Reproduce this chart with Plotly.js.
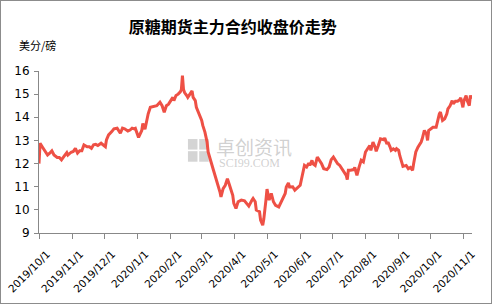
<!DOCTYPE html>
<html>
<head>
<meta charset="utf-8">
<script src="https://cdn.plot.ly/plotly-3.0.1.min.js"></script>
<style>
html,body{margin:0;padding:0;background:#fff;}
#wrap{position:relative;width:492px;height:304px;}
#chart{width:492px;height:304px;}
#frame{position:absolute;left:0;top:0;width:492px;height:304px;box-sizing:border-box;border:1px solid #8c8c8c;pointer-events:none;}
</style>
</head>
<body>
<div id="wrap"><div id="chart"></div><div id="frame"></div></div>
<script>
const chartTitle = "原糖期货主力合约收盘价走势";
const unitLabel = "美分/磅";
const dates = [
"2019-10-01","2019-10-02","2019-10-04","2019-10-07","2019-10-09","2019-10-11","2019-10-13","2019-10-15","2019-10-18","2019-10-20",
"2019-10-22","2019-10-25","2019-10-27","2019-10-28","2019-10-31","2019-11-02","2019-11-04","2019-11-06","2019-11-08","2019-11-10",
"2019-11-12","2019-11-15","2019-11-17","2019-11-19","2019-11-21","2019-11-23","2019-11-25","2019-11-28","2019-11-30","2019-12-02",
"2019-12-03","2019-12-05","2019-12-08","2019-12-10","2019-12-13","2019-12-15","2019-12-16","2019-12-18","2019-12-20","2019-12-23",
"2019-12-25","2019-12-27","2019-12-29","2019-12-30","2020-01-02","2020-01-05","2020-01-06","2020-01-08","2020-01-10","2020-01-11",
"2020-01-13","2020-01-16","2020-01-19","2020-01-22","2020-01-24","2020-01-26","2020-01-28","2020-01-30","2020-02-01","2020-02-03",
"2020-02-04","2020-02-06","2020-02-08","2020-02-10","2020-02-11","2020-02-12","2020-02-13","2020-02-14","2020-02-16","2020-02-17",
"2020-02-19","2020-02-21","2020-02-22","2020-02-24","2020-02-25","2020-02-27","2020-02-28","2020-03-01","2020-03-02","2020-03-04",
"2020-03-06","2020-03-07","2020-03-12","2020-03-15","2020-03-18","2020-03-19","2020-03-21","2020-03-23","2020-03-25","2020-03-27",
"2020-03-30","2020-03-31","2020-04-02","2020-04-04","2020-04-07","2020-04-10","2020-04-12","2020-04-14","2020-04-17","2020-04-18",
"2020-04-20","2020-04-21","2020-04-24","2020-04-25","2020-04-27","2020-04-28","2020-04-30","2020-05-01","2020-05-03","2020-05-05",
"2020-05-07","2020-05-09","2020-05-12","2020-05-14","2020-05-16","2020-05-18","2020-05-19","2020-05-21","2020-05-22","2020-05-25",
"2020-05-27","2020-05-29","2020-06-01","2020-06-02","2020-06-04","2020-06-05","2020-06-07","2020-06-09","2020-06-10","2020-06-12",
"2020-06-13","2020-06-15","2020-06-17","2020-06-19","2020-06-21","2020-06-23","2020-06-26","2020-06-28","2020-06-30","2020-07-02",
"2020-07-04","2020-07-06","2020-07-08","2020-07-10","2020-07-12","2020-07-14","2020-07-15","2020-07-16","2020-07-18","2020-07-21",
"2020-07-22","2020-07-24","2020-07-26","2020-07-28","2020-07-30","2020-08-01","2020-08-03","2020-08-05","2020-08-06","2020-08-08",
"2020-08-10","2020-08-11","2020-08-13","2020-08-15","2020-08-18","2020-08-19","2020-08-21","2020-08-22","2020-08-24","2020-08-25",
"2020-08-27","2020-08-29","2020-08-30","2020-09-01","2020-09-02","2020-09-04","2020-09-05","2020-09-08","2020-09-10","2020-09-12",
"2020-09-14","2020-09-15","2020-09-17","2020-09-19","2020-09-22","2020-09-23","2020-09-25","2020-09-27","2020-09-28","2020-09-29",
"2020-10-01","2020-10-03","2020-10-06","2020-10-07","2020-10-09","2020-10-10","2020-10-12","2020-10-14","2020-10-16","2020-10-17",
"2020-10-19","2020-10-21","2020-10-22","2020-10-24","2020-10-26","2020-10-28","2020-10-29","2020-10-31","2020-11-01","2020-11-03",
"2020-11-04","2020-11-06","2020-11-07","2020-11-08"
];
const closePrice = [
12.00,12.88,12.73,12.52,12.37,12.45,12.55,12.37,12.26,12.26,
12.16,12.35,12.47,12.37,12.49,12.52,12.66,12.45,12.55,12.55,
12.81,12.73,12.73,12.66,12.81,12.83,12.78,12.88,12.81,12.73,
13.02,13.24,13.38,13.50,13.53,13.41,13.31,13.53,13.50,13.41,
13.45,13.53,13.50,13.52,13.13,13.43,13.73,13.48,14.00,14.15,
14.43,14.47,14.50,14.65,14.50,14.22,14.50,14.57,14.72,14.86,
14.72,14.94,15.00,15.10,15.20,15.80,15.20,15.07,14.94,14.86,
15.00,15.14,14.86,14.72,14.43,14.22,14.07,13.86,13.65,13.36,
12.93,12.50,11.71,11.28,10.78,10.56,10.92,11.06,11.35,11.06,
10.63,10.28,10.06,10.35,10.42,10.39,10.28,10.16,10.42,10.49,
10.35,9.99,9.92,9.56,9.34,9.60,10.42,10.90,10.42,10.71,
10.35,10.20,10.13,10.35,10.49,10.71,10.99,11.16,10.99,11.00,
10.85,10.92,11.06,11.28,11.64,11.92,11.85,12.02,11.92,12.14,
11.99,11.92,12.28,12.14,11.99,11.78,11.74,11.85,12.17,12.28,
12.14,11.99,11.92,11.78,11.64,11.49,11.31,11.71,11.71,11.74,
11.83,11.49,11.85,12.14,12.07,12.50,12.64,12.78,12.57,12.93,
12.71,12.53,12.78,13.07,13.03,13.11,12.85,12.93,12.71,12.57,
12.64,12.57,12.64,12.57,12.35,12.00,11.88,11.92,11.78,11.83,
11.71,12.00,12.50,12.71,12.93,13.07,13.43,13.28,13.00,13.43,
13.50,13.57,13.57,13.79,14.15,14.22,13.86,13.93,14.15,14.36,
14.50,14.72,14.58,14.69,14.69,14.76,14.84,14.43,14.72,14.94,
14.72,14.50,14.94,14.79
];
const tickDates = ["2019-10-01","2019-11-01","2019-12-01","2020-01-01","2020-02-01","2020-03-01","2020-04-01","2020-05-01","2020-06-01","2020-07-01","2020-08-01","2020-09-01","2020-10-01","2020-11-01"];
const tickLabels = ["2019/10/1","2019/11/1","2019/12/1","2020/1/1","2020/2/1","2020/3/1","2020/4/1","2020/5/1","2020/6/1","2020/7/1","2020/8/1","2020/9/1","2020/10/1","2020/11/1"];
const yTicks = [9,10,11,12,13,14,15,16];
const watermarkMain = "卓创资讯";
const watermarkSub = "SCI99.COM";

const trace = {
  x: dates, y: closePrice, type: "scatter", mode: "lines",
  line: {color: "#EE5045", width: 3, shape: "linear"},
  hoverinfo: "skip"
};

const wm = "rgba(170,170,170,0.55)";
const layout = {
  width: 492, height: 304,
  margin: {l: 39, r: 20, t: 71, b: 71},
  paper_bgcolor: "#ffffff", plot_bgcolor: "#ffffff",
  showlegend: false,
  font: {family: "DejaVu Sans, sans-serif", size: 11, color: "#000"},
  title: {
    text: "<b>" + chartTitle + "</b>",
    font: {family: "Noto Sans CJK SC, sans-serif", size: 16, color: "#000"},
    x: 0.473, xref: "container", xanchor: "center",
    y: 0.91, yref: "container", yanchor: "middle"
  },
  xaxis: {
    type: "date",
    range: ["2019-10-01", "2020-11-08 12:00"],
    tickmode: "array", tickvals: tickDates, ticktext: tickLabels,
    tickangle: -45, ticklabeloverflow: "allow",
    ticklabelshift: 8, ticklabelstandoff: 5,
    ticks: "outside", ticklen: 5, tickcolor: "#888", tickwidth: 1,
    showline: true, linecolor: "#888", linewidth: 1,
    showgrid: false, zeroline: false,
    tickfont: {family: "DejaVu Sans, sans-serif", size: 10.5, color: "#000"}
  },
  yaxis: {
    range: [9, 16],
    tickmode: "array", tickvals: yTicks,
    ticks: "outside", ticklen: 4, tickcolor: "#888", tickwidth: 1,
    ticklabelstandoff: 2,
    showline: true, linecolor: "#888", linewidth: 1,
    showgrid: false, zeroline: false,
    tickfont: {family: "DejaVu Sans, sans-serif", size: 12, color: "#000"}
  },
  annotations: [
    {text: unitLabel, xref: "paper", yref: "paper", x: -0.051, y: 1.158,
     xanchor: "left", yanchor: "middle", showarrow: false,
     font: {family: "Noto Sans CJK SC, sans-serif", size: 11, color: "#000"}},
    {text: watermarkMain, xref: "paper", yref: "paper", x: 0.405, y: 0.535,
     xanchor: "left", yanchor: "middle", showarrow: false,
     font: {family: "Noto Sans CJK SC, sans-serif", size: 19, color: wm}},
    {text: watermarkSub, xref: "paper", yref: "paper", x: 0.41, y: 0.43,
     xanchor: "left", yanchor: "middle", showarrow: false,
     font: {family: "Liberation Serif, serif", size: 12, color: wm}}
  ],
  shapes: [
    {type: "rect", layer: "below", xref: "paper", yref: "paper", x0: 0.344, x1: 0.366, y0: 0.58, y1: 0.515, fillcolor: "rgba(170,170,170,0.5)", line: {width: 0}},
    {type: "rect", layer: "below", xref: "paper", yref: "paper", x0: 0.370, x1: 0.392, y0: 0.58, y1: 0.515, fillcolor: "rgba(170,170,170,0.5)", line: {width: 0}},
    {type: "rect", layer: "below", xref: "paper", yref: "paper", x0: 0.344, x1: 0.366, y0: 0.505, y1: 0.44, fillcolor: "rgba(170,170,170,0.5)", line: {width: 0}},
    {type: "rect", layer: "below", xref: "paper", yref: "paper", x0: 0.370, x1: 0.392, y0: 0.505, y1: 0.44, fillcolor: "rgba(170,170,170,0.5)", line: {width: 0}}
  ]
};

Plotly.newPlot("chart", [trace], layout, {staticPlot: true, displayModeBar: false});
</script>
</body>
</html>
